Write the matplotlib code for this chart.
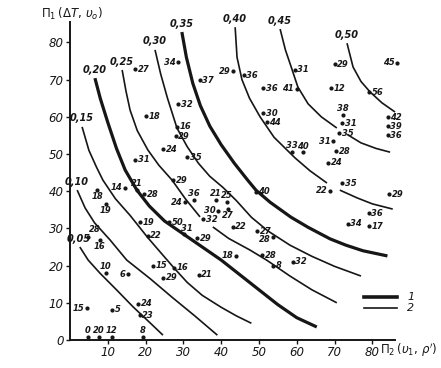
import numpy as np
import matplotlib
matplotlib.use("Agg")
import matplotlib.pyplot as plt
from matplotlib.lines import Line2D

nan = np.nan
# ---- iso-curves (value labels and read points) ----
curve_labels = ["0,05", "0,10", "0,15", "0,20", "0,25", "0,30", "0,35", "0,40", "0,45", "0,50"]
curve_kind = [2, 2, 2, 1, 2, 2, 1, 2, 2, 2]   # 1 = thick, 2 = thin
c05_x = [2.6, 4.8, 7.9, 12.4, 16.7, 21.2, 24.6]
c05_y = [25, 21.5, 18, 13.4, 8.9, 4.6, 1.3]
c10_x = [1.9, 4, 6.5, 10.6, 15, 21.2, 27, 33, 39]
c10_y = [40.3, 35.5, 31.5, 26.9, 21.5, 16.5, 11.5, 6.5, 1.3]
c15_x = [3.2, 5, 7, 8.7, 12, 15.9, 20.6, 24, 27.5, 31, 35, 40, 44, 48]
c15_y = [57.3, 51, 46.5, 43, 38, 33.5, 27.5, 23.5, 19.4, 15.5, 12, 8.8, 6.5, 4.5]
c20_x = [6.6, 8, 10, 12.3, 14.6, 17.7, 21, 25, 30, 35, 40, 45, 50, 55, 60, 65.3]
c20_y = [70.4, 65, 58.5, 51.5, 45.7, 40.3, 36, 32, 28.5, 25, 21.5, 17.5, 13.5, 9.5, 6, 3.5]
c25_x = [13.8, 14.8, 15.9, 17.8, 20.6, 23.5, 27, 30.5, 34.4, nan, 37.8, 42, 47.6, 52, 58.2, 64, 70.6]
c25_y = [72.6, 67, 61.8, 56.3, 51.1, 47, 43, 38, 33.1, nan, 30.4, 27.3, 24.2, 21.5, 17.2, 13.5, 10]
c30_x = [22.5, 24, 25.8, 28.3, 31, 34, 37, 40.5, 44, 48, 52.4, 58.2, 64, 70, 77]
c30_y = [78, 71.5, 65, 57, 52, 47.5, 44, 41, 37.5, 33, 29.3, 25.5, 22.5, 19.8, 17.2]
c35_x = [29.6, 30.8, 32.5, 34.5, 37, 40, 43.5, 47, 49.2, 53, 58.5, 63, 68.8, 73, 77.5, 84]
c35_y = [82.8, 76, 69, 63, 57.5, 52.5, 47.5, 43, 40.3, 37, 33, 30.3, 27.2, 25.5, 24, 22.6]
c40_x = [43.7, 44.2, 45.5, 47.5, 50.3, 54, 59.5, 63.5, 68, nan, 71.4, 76, 80, 85.4]
c40_y = [84.1, 76, 70, 65, 60, 54.5, 49, 45.5, 42.2, nan, 40.3, 38.2, 36.6, 35.2]
c45_x = [55.6, 57, 58.5, 60.3, 63, 66.5, 70.6, nan, 73.3, 77, 81, 84.7]
c45_y = [83.6, 78, 73.5, 68, 63.5, 60, 57, nan, 55.3, 53, 51.5, 50.5]
c50_x = [73.3, 74.9, 77, 79.4, 82.5, 86]
c50_y = [79.8, 73.4, 69.5, 66.7, 63.8, 61.3]
curves_x = [c05_x, c10_x, c15_x, c20_x, c25_x, c30_x, c35_x, c40_x, c45_x, c50_x]
curves_y = [c05_y, c10_y, c15_y, c20_y, c25_y, c30_y, c35_y, c40_y, c45_y, c50_y]

# ---- labelled experimental points ----
pt_x = [17.2, 28.6, 34.4, 43.1, 46, 51.1, 60, 59.5, 70.1, 86.5, 69, 79.1,
        20.1, 28.6, 28.3, 28.0, 24.6, 31, 17.2, 51.1, 52.1, 58.7, 61.6, 69.6, 70.4, 68.3,
        72.2, 72, 71.2, 84.1, 84.1, 84.1,
        14.5, 17.7, 19.6, 7.2, 9.5, 18.5, 27.3, 30.4, 32.8, 38.6, 41.5, 39.2, 41.8, 49.2,
        68.8, 72, 84.4,
        4.8, 7.9, 20.6, 26.2, 30.2, 35.2, 33.6, 43.1, 49.5, 53.7, 79.1, 73.5, 79.1,
        9.5, 15.3, 22, 27.5, 24.6, 34.1, 43.9, 50.8, 53.7, 59,
        4.5, 11.1, 18, 18.5, 4.8, 7.7, 11.1, 19.3]
pt_y = [72.8, 74.7, 69.9, 72.3, 71.2, 67.7, 67.5, 72.6, 74.2, 74.5, 67.7, 66.6,
        60.2, 63.4, 57.3, 54.8, 51.3, 49.2, 48.4, 61, 58.6, 50.6, 50.5, 53.5, 50.8, 47.6,
        60.5, 58.3, 55.6, 59.9, 57.5, 55.1,
        41, 40.3, 39.2, 40.3, 36.6, 31.7, 43, 37.1, 37.6, 37.6, 37.1, 34.7, 35.2, 39.8,
        40.1, 42.2, 39.2,
        27.7, 26.9, 28, 31.7, 28.5, 32.5, 27.4, 30.4, 29.3, 27.7, 34.1, 31.2, 30.6,
        18, 17.7, 19.9, 19.4, 16.7, 17.5, 22.6, 22.8, 19.9, 21,
        8.6, 8.1, 9.7, 6.7, 0.8, 0.8, 0.8, 0.8]
pt_lbl = ["27", "34", "37", "29", "36", "36", "41", "31", "29", "45", "12", "56",
          "18", "32", "16", "29", "24", "35", "31", "30", "44", "33", "40", "31", "28", "24",
          "38", "31", "35", "42", "39", "36",
          "14", "21", "28", "18", "19", "19", "29", "24", "36", "21", "25", "30", "27", "40",
          "22", "35", "29",
          "28", "16", "22", "50", "31", "32", "29", "22", "27", "28", "36", "34", "17",
          "10", "6", "15", "16", "29", "21", "18", "28", "8", "32",
          "15", "5", "24", "23", "0", "20", "12", "8"]
pt_side = ["r", "l", "r", "l", "r", "r", "l", "r", "r", "l", "r", "r",
           "r", "r", "r", "r", "r", "r", "r", "r", "r", "a", "a", "l", "r", "r",
           "a", "r", "r", "r", "r", "r",
           "l", "a", "r", "b", "b", "r", "r", "l", "a", "a", "a", "l", "b", "r",
           "l", "r", "r",
           "R", "b", "r", "r", "A", "r", "r", "r", "r", "L", "r", "r", "r",
           "a", "l", "r", "r", "r", "r", "l", "r", "r", "r",
           "l", "r", "r", "r", "a", "a", "a", "a"]

x_ticks = [10, 20, 30, 40, 50, 60, 70, 80]
y_ticks = [0, 10, 20, 30, 40, 50, 60, 70, 80]

W, H = 441, 368
fig = plt.figure(figsize=(W / 100, H / 100), dpi=100)
ax = fig.add_axes([70 / W, 28 / H, 325 / W, 318 / H])
ax.set_xlim(0, 86)
ax.set_ylim(0, 85.5)
ink = "#161616"
for s in ["top", "right"]:
    ax.spines[s].set_visible(False)
for s in ["left", "bottom"]:
    ax.spines[s].set_linewidth(1.4)
    ax.spines[s].set_color(ink)

tf = dict(fontsize=8.5, fontstyle="italic", color=ink)
ax.set_xticks(x_ticks)
ax.set_xticklabels([str(v) for v in x_ticks], **tf)
ax.set_yticks(y_ticks)
ax.set_yticklabels([str(v) for v in y_ticks], **tf)
ax.tick_params(direction="out", length=3, width=1, pad=1.5, colors=ink)

for cx, cy, lab, kind in zip(curves_x, curves_y, curve_labels, curve_kind):
    ax.plot(cx, cy, color=ink, lw=2.3 if kind == 1 else 1.2, solid_capstyle="butt",
            clip_on=False)
    ax.annotate(lab, (cx[0], cy[0]), xytext=(-0.5, 2.5), textcoords="offset points",
                ha="center", va="bottom", fontsize=7, fontstyle="italic",
                fontweight="bold", color=ink, annotation_clip=False)

ax.plot(pt_x, pt_y, "o", ms=2.0, color=ink, clip_on=False)
offs = {"r": ((1.8, 0), "left", "center"), "l": ((-1.8, 0), "right", "center"),
        "L": ((-1.8, -1.5), "right", "center"),
        "a": ((0, 1.2), "center", "bottom"), "A": ((2.2, 1.0), "center", "bottom"),
        "R": ((0.5, 2.0), "left", "bottom"),
        "b": ((0, -1.2), "center", "top")}
for x, y, lab, side in zip(pt_x, pt_y, pt_lbl, pt_side):
    off, ha, va = offs[side]
    ax.annotate(lab, (x, y), xytext=off, textcoords="offset points", ha=ha, va=va,
                fontsize=6, fontstyle="italic", fontweight="bold", color=ink,
                annotation_clip=False)

# axis titles
fig.text(72 / W, 1 - 14 / H, r"$\Pi_1\,(\Delta T,\,\upsilon_o)$", ha="center", va="center",
         fontsize=8.5, color=ink)
fig.text(438 / W, 1 - 350 / H, r"$\Pi_2\,(\upsilon_1,\,\rho')$", ha="right", va="center",
         fontsize=8.5, color=ink)

# legend
fig.add_artist(Line2D([364 / W, 397 / W], [1 - 297 / H] * 2, lw=2.6, color=ink))
fig.add_artist(Line2D([364 / W, 397 / W], [1 - 308 / H] * 2, lw=1.2, color=ink))
fig.text(407 / W, 1 - 297 / H, "1", fontsize=8, fontstyle="italic", ha="left", va="center", color=ink)
fig.text(407 / W, 1 - 308 / H, "2", fontsize=8, fontstyle="italic", ha="left", va="center", color=ink)

fig.savefig("out.png", dpi=100, facecolor="white")
